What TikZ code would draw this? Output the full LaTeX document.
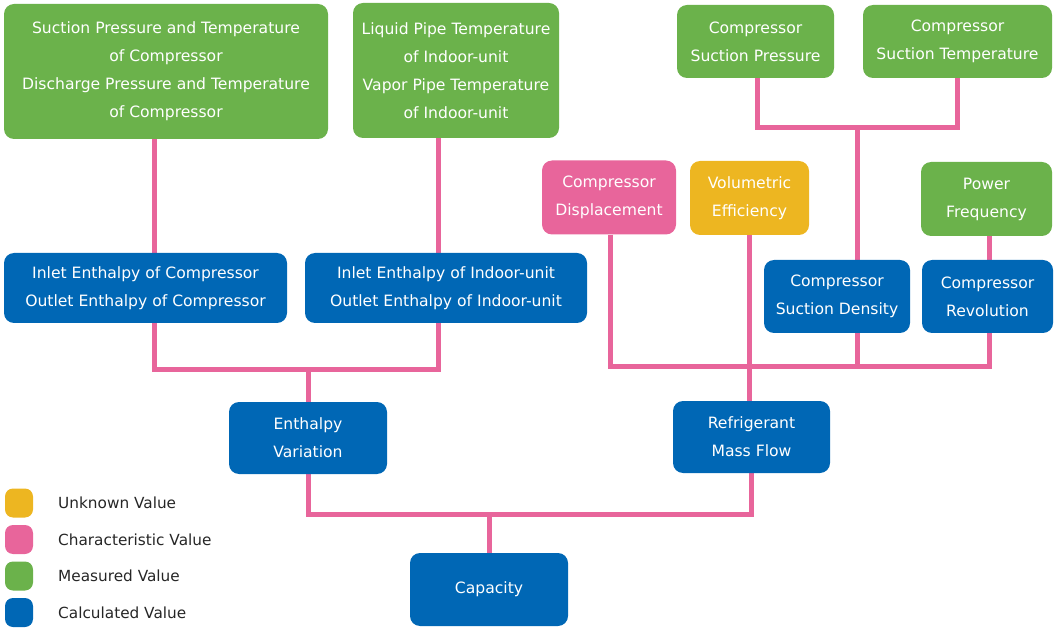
\documentclass[tikz,border=0pt]{standalone}
\usepackage{fontspec}
\setmainfont{DejaVu Sans}
\usetikzlibrary{backgrounds}
\definecolor{cgreen}{HTML}{6BB24B}
\definecolor{cblue}{HTML}{0067B5}
\definecolor{cpink}{HTML}{E8659B}
\definecolor{cyellow}{HTML}{EDB621}
\begin{document}
\begin{tikzpicture}[x=1pt,y=-1pt,
  box/.style={rectangle, rounded corners=10pt, inner sep=0pt, align=center,
    text=white, font=\fontsize{15.6}{28}\selectfont},
  measured/.style={box, fill=cgreen},
  calculated/.style={box, fill=cblue},
  characteristic/.style={box, fill=cpink},
  unknown/.style={box, fill=cyellow},
  swatch/.style={rectangle, rounded corners=8pt, minimum width=28pt, minimum height=29pt, inner sep=0pt},
  legendtext/.style={anchor=west, inner sep=0pt, font=\fontsize{15.3}{18}\selectfont, text=black!85},
  link/.style={draw=cpink, line width=5pt}]
\useasboundingbox (0,0) rectangle (1055,628);

% measured inputs
\node[measured, minimum width=324pt, minimum height=135pt] (A) at (166,71.5)
  {Suction Pressure and Temperature\\of Compressor\\Discharge Pressure and Temperature\\of Compressor};
\node[measured, minimum width=206pt, minimum height=135pt] (B) at (456,70.5)
  {Liquid Pipe Temperature\\of Indoor-unit\\Vapor Pipe Temperature\\of Indoor-unit};
\node[measured, minimum width=157pt, minimum height=73pt] (C) at (755.5,41.5)
  {Compressor\\Suction Pressure};
\node[measured, minimum width=189pt, minimum height=73pt] (D) at (957.5,41.5)
  {Compressor\\Suction Temperature};
\node[characteristic, minimum width=134pt, minimum height=74pt] (E) at (609,197.5)
  {Compressor\\Displacement};
\node[unknown, minimum width=119pt, minimum height=74pt] (F) at (749.5,198)
  {Volumetric\\Efficiency};
\node[measured, minimum width=131pt, minimum height=74pt] (G) at (986.5,199)
  {Power\\Frequency};

% calculated values
\node[calculated, minimum width=146pt, minimum height=73pt] (H) at (837,296.5)
  {Compressor\\Suction Density};
\node[calculated, minimum width=131pt, minimum height=73pt] (I) at (987.5,296.5)
  {Compressor\\Revolution};
\node[calculated, minimum width=283pt, minimum height=70pt] (J) at (145.5,288)
  {Inlet Enthalpy of Compressor\\Outlet Enthalpy of Compressor};
\node[calculated, minimum width=282pt, minimum height=70pt] (K) at (446,288)
  {Inlet Enthalpy of Indoor-unit\\Outlet Enthalpy of Indoor-unit};
\node[calculated, minimum width=158pt, minimum height=72pt] (L) at (308,438)
  {Enthalpy\\Variation};
\node[calculated, minimum width=157pt, minimum height=72pt] (M) at (751.5,437)
  {Refrigerant\\Mass Flow};
\node[calculated, minimum width=158pt, minimum height=73pt] (N) at (489,589.5)
  {Capacity};

% junction points of the connector tree
\coordinate (jl) at (154,369);
\coordinate (jr) at (438,369);
\coordinate (jc) at (308,514);
\coordinate (jt) at (757,128);
\coordinate (jd) at (857,128);
\coordinate (jm) at (610,366);
\coordinate (jp) at (989,366);

\begin{scope}[on background layer]
  % enthalpy branch
  \draw[link] (A.south -| jl) -- (jl) -- (jr) -- (B.south -| jr);
  \draw[link] (L.north |- jl) -- (L.north);
  % suction density branch
  \draw[link] (C.south -| jt) -- (jt) -- (jt -| D.south) -- (D.south);
  \draw[link] (jd) -- (H.north -| jd);
  % mass flow branch
  \draw[link] (E.south -| jm) -- (jm) -- (jp) -- (G.south -| jp);
  \draw[link] (H.south -| jd) -- (jm -| jd);
  \draw[link] (F.south) -- (M.north -| F.south);
  % capacity
  \draw[link] (L.south) -- (L.south |- jc) -- (jc -| M.south) -- (M.south);
  \draw[link] (N.north |- jc) -- (N.north);
\end{scope}

% legend
\node[swatch, fill=cyellow] (s1) at (19,503) {};
\node[swatch, fill=cpink]   (s2) at (19,539.5) {};
\node[swatch, fill=cgreen]  (s3) at (19,576) {};
\node[swatch, fill=cblue]   (s4) at (19,612.5) {};
\node[legendtext] (t1) at (58,503)   {Unknown Value};
\node[legendtext] (t2) at (58,539.5) {Characteristic Value};
\node[legendtext] (t3) at (58,576)   {Measured Value};
\node[legendtext] (t4) at (58,612.5) {Calculated Value};
\end{tikzpicture}
\end{document}
